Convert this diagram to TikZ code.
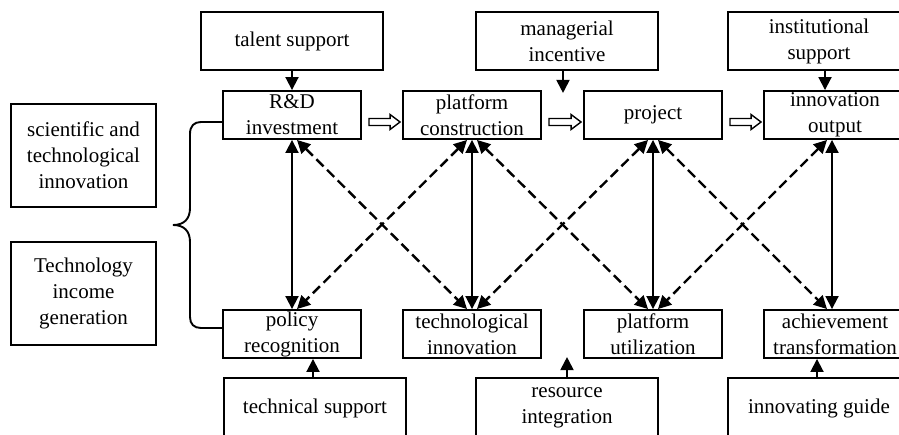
\documentclass[tikz,border=0pt]{standalone}
\usepackage{fontspec}
\setmainfont{Liberation Serif}
\usetikzlibrary{arrows.meta,calc}
\begin{document}
\begin{tikzpicture}[x=1pt,y=-1pt,
  box/.style={draw,line width=1.9pt,inner sep=0pt,align=center,
    font=\fontsize{21}{26}\selectfont},
  outer/.style={box,minimum width=182pt,minimum height=58pt},
  lower/.style={box,minimum width=182pt,minimum height=60pt},
  stage/.style={box,minimum width=138pt,minimum height=48pt},
  laststage/.style={box,minimum width=142pt,minimum height=48pt},
  side/.style={box,minimum width=145pt,minimum height=103pt},
  feed/.style={line width=1.9pt,-{Triangle[length=13pt,width=13pt]}},
  link/.style={line width=1.9pt,{Triangle[length=13pt,width=13pt]}-{Triangle[length=13pt,width=13pt]}},
  cross/.style={line width=2.4pt,dash pattern=on 10pt off 5pt,
    {Triangle[length=13pt,width=13pt]}-{Triangle[length=13pt,width=13pt]}},
  hollow/.style={line width=1.4pt,to path={
    let \p1=(\tikztostart), \p2=(\tikztotarget) in
    (\x1+7pt,\y1+3.5pt) -- (\x2-12pt,\y1+3.5pt) -- (\x2-12pt,\y1+7.5pt)
    -- (\x2-2pt,\y1) -- (\x2-12pt,\y1-7.5pt) -- (\x2-12pt,\y1-3.5pt)
    -- (\x1+7pt,\y1-3.5pt) -- cycle}},
  brace/.style={line width=1.9pt}
]
\useasboundingbox (0,0) rectangle (899,434);
\clip (0,0) rectangle (899,434);

% outer influences, top
\node[outer] (tal) at (292,41) {talent support};
\node[outer] (mgr) at (567,41) {managerial\\incentive};
\node[outer] (ins) at (819,41) {institutional\\support};

% process chain
\node[stage] (rd)  at (292,115) {R\&D\\investment};
\node[stage] (pc)  at (472,115) {platform\\construction};
\node[stage] (prj) at (653,115) {project};
\node[laststage] (io)  at (835,115) {innovation\\output};

% outcome chain
\node[stage] (pr) at (292,334) {policy\\recognition};
\node[stage] (ti) at (472,334) {technological\\innovation};
\node[stage] (pu) at (653,334) {platform\\utilization};
\node[laststage] (at) at (835,334) {achievement\\transformation};

% outer influences, bottom
\node[lower] (ts) at (315,408) {technical support};
\node[lower] (ri) at (567,408) {resource\\integration};
\node[lower] (ig) at (819,408) {innovating guide};

% left labels
\node[side] (sti) at (83.5,155.5) {scientific and\\technological\\innovation};
\node[side] (tig) at (83.5,293.5) {Technology\\income\\generation};

% influences into the chains
\draw[feed] (tal.south) -- (rd.north);
\draw[feed] ([xshift=-4pt]mgr.south) -- ++(0,22);
\coordinate (insfoot) at ([xshift=6pt]ins.south);
\draw[feed] (insfoot) -- (insfoot |- io.north);
\coordinate (tshead) at ([xshift=-2pt]ts.north);
\draw[feed] (tshead) -- (tshead |- pr.south);
\draw[feed] (ri.north) -- ++(0,-20);
\coordinate (ighead) at ([xshift=-2pt]ig.north);
\draw[feed] (ighead) -- (ighead |- at.south);

% hollow arrows along the process chain
\draw[hollow] ([yshift=-7pt]rd.east) to ([yshift=-7pt]pc.west);
\draw[hollow] ([yshift=-7pt]pc.east) to ([yshift=-7pt]prj.west);
\draw[hollow] ([yshift=-7pt]prj.east) to ([yshift=-7pt]io.west);

% vertical two-way links
\coordinate (iolink) at ([xshift=-3pt]io.south);
\coordinate (atlink) at (iolink |- at.north);
\draw[link] (rd.south) -- (pr.north);
\draw[link] (pc.south) -- (ti.north);
\draw[link] (prj.south) -- (pu.north);
\draw[link] (iolink) -- (atlink);

% diagonal two-way links
\draw[cross] ([xshift=5pt]rd.south) -- ([xshift=-5pt]ti.north);
\draw[cross] ([xshift=-5pt]pc.south) -- ([xshift=5pt]pr.north);
\draw[cross] ([xshift=5pt]pc.south) -- ([xshift=-5pt]pu.north);
\draw[cross] ([xshift=-5pt]prj.south) -- ([xshift=5pt]ti.north);
\draw[cross] ([xshift=5pt]prj.south) -- ([xshift=-5pt]atlink);
\draw[cross] ([xshift=-5pt]iolink) -- ([xshift=5pt]pu.north);

% brace joining the first stages
\draw[brace] ([yshift=-7pt]rd.west) -- (201,122)
  .. controls (194,122) and (190,126) .. (190,134)
  -- (190,208)
  .. controls (190,219) and (184,225) .. (173,225)
  .. controls (184,225) and (190,231) .. (190,242)
  -- (190,317)
  .. controls (190,324) and (194,328) .. (201,328)
  -- ([yshift=6pt]pr.west);
\end{tikzpicture}
\end{document}
